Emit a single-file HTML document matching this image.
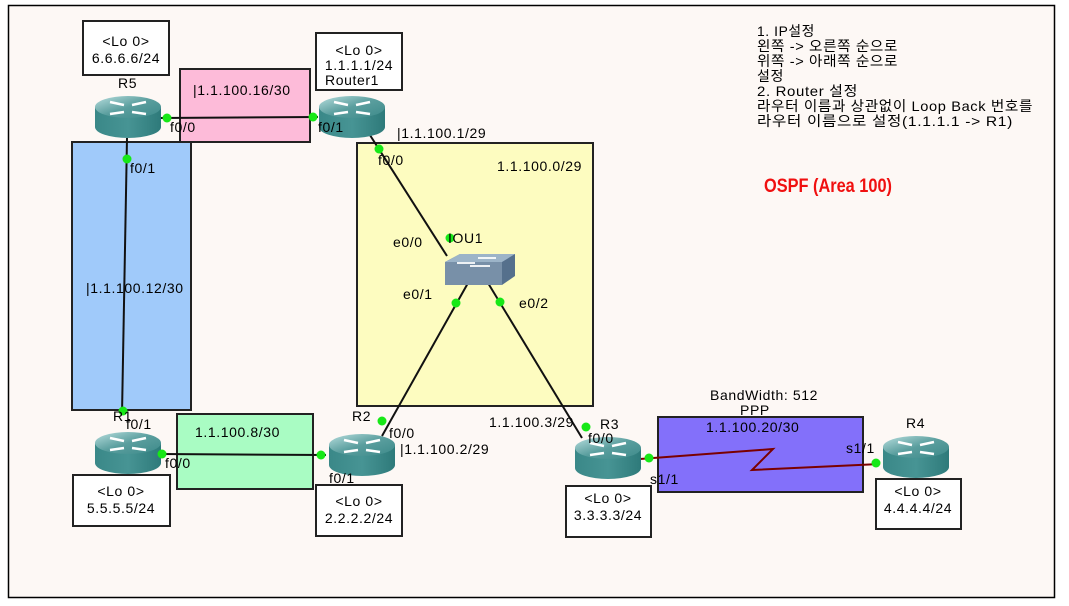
<!DOCTYPE html>
<html><head><meta charset="utf-8"><style>
html,body{margin:0;padding:0;background:#fff}
svg{display:block}
text{font-family:"Liberation Sans","Noto Sans CJK KR",sans-serif;font-size:14px;letter-spacing:0.6px;fill:#000}
</style></head><body>
<svg width="1069" height="606" viewBox="0 0 1069 606" xmlns="http://www.w3.org/2000/svg">
<defs>
<linearGradient id="tg" x1="0" y1="0" x2="1" y2="1"><stop offset="0" stop-color="#b8dede"/><stop offset="0.5" stop-color="#5a9e9e"/><stop offset="1" stop-color="#3d8a8a"/></linearGradient>
<linearGradient id="sg" x1="0" y1="0" x2="1" y2="0"><stop offset="0" stop-color="#3a8888"/><stop offset="0.5" stop-color="#479494"/><stop offset="1" stop-color="#2e7a7a"/></linearGradient>
<g id="rt">
<path d="M-33,-10 L-33,10 A33,11 0 0 0 33,10 L33,-10 Z" fill="url(#sg)"/>
<ellipse cx="0" cy="-10" rx="33" ry="11" fill="url(#tg)"/>
<g stroke="#fff" stroke-width="2.5" fill="none">
<path d="M-18,-15 L-4,-12 M-4,-5 L-18,-3 M4,-12 L18,-15 M4,-5 L18,-3"/>
</g>
</g>
</defs>
<rect x="0" y="0" width="1069" height="606" fill="#fff"/>
<rect x="8.5" y="5.5" width="1046" height="592" fill="#fdf8f5" stroke="#000" stroke-width="1.5"/>

<rect x="180" y="69" width="130" height="73" fill="#fdbbd9" stroke="#222" stroke-width="2"/>
<rect x="72" y="142" width="119" height="268" fill="#a0cafa" stroke="#222" stroke-width="2"/>
<rect x="357" y="143" width="236" height="263" fill="#fdfcc0" stroke="#222" stroke-width="2"/>
<rect x="177" y="414" width="136" height="75" fill="#a9fcc3" stroke="#222" stroke-width="2"/>
<rect x="658" y="417" width="205" height="75" fill="#8370fa" stroke="#222" stroke-width="2"/>

<g fill="#fff" stroke="#222" stroke-width="2">
<rect x="83" y="21" width="86" height="54"/>
<rect x="316" y="33" width="86" height="57"/>
<rect x="73" y="475" width="97" height="51"/>
<rect x="316" y="485" width="86" height="51"/>
<rect x="566" y="486" width="85" height="51"/>
<rect x="876" y="479" width="85" height="50"/>
</g>

<g stroke="#111" stroke-width="2" fill="none">
<line x1="160" y1="118" x2="318" y2="117"/>
<line x1="127" y1="138" x2="122" y2="414"/>
<line x1="160" y1="454" x2="326" y2="455"/>
<line x1="368" y1="132" x2="447" y2="256"/>
<line x1="468" y1="283" x2="382" y2="436"/>
<line x1="488" y1="283" x2="582" y2="438"/>
</g>
<polyline points="640,459 773,449 752,470 880,464" stroke="#7a0000" stroke-width="2" fill="none"/>

<use href="#rt" x="128" y="117"/>
<use href="#rt" x="352" y="117"/>
<use href="#rt" x="128" y="453"/>
<use href="#rt" x="362" y="455"/>
<use href="#rt" x="608" y="458"/>
<use href="#rt" x="916" y="457"/>

<path d="M445,262 L460,254 L515,254 L515,276 L502,285 L445,285 Z" fill="#55708c"/>
<path d="M445,262 L460,254 L515,254 L502,262 Z" fill="#9cb4c8"/>
<rect x="445" y="262" width="57" height="23" fill="#7890a8"/>
<g stroke="#fff" stroke-width="1.8"><line x1="457" y1="263" x2="475" y2="263"/><line x1="478" y1="258" x2="496" y2="258"/><line x1="470" y1="266" x2="490" y2="266"/></g>

<g fill="#17e817">
<circle cx="167" cy="118" r="4.5"/><circle cx="313" cy="117" r="4.5"/>
<circle cx="127" cy="159" r="4.5"/><circle cx="123" cy="411" r="4.5"/>
<circle cx="162" cy="454" r="4.5"/><circle cx="321" cy="455" r="4.5"/>
<circle cx="379" cy="149" r="4.5"/><circle cx="450" cy="238" r="4.5"/>
<circle cx="456" cy="303" r="4.5"/><circle cx="382" cy="421" r="4.5"/>
<circle cx="500" cy="302" r="4.5"/><circle cx="586" cy="427" r="4.5"/>
<circle cx="649" cy="458" r="4.5"/><circle cx="876" cy="463" r="4.5"/>
</g>

<g text-anchor="middle">
<text x="126" y="46">&lt;Lo 0&gt;</text><text x="126" y="63">6.6.6.6/24</text>
<text x="359" y="55">&lt;Lo 0&gt;</text><text x="359" y="70">1.1.1.1/24</text>
<text x="121" y="496">&lt;Lo 0&gt;</text><text x="121" y="513">5.5.5.5/24</text>
<text x="359" y="506">&lt;Lo 0&gt;</text><text x="359" y="523">2.2.2.2/24</text>
<text x="608" y="503">&lt;Lo 0&gt;</text><text x="608" y="520">3.3.3.3/24</text>
<text x="918" y="496">&lt;Lo 0&gt;</text><text x="918" y="513">4.4.4.4/24</text>
</g>
<text x="325" y="85">Router1</text>
<text x="118" y="88">R5</text>
<text x="113" y="421">R1</text>
<text x="352" y="421">R2</text>
<text x="600" y="429">R3</text>
<text x="906" y="428">R4</text>
<text x="193" y="95">|1.1.100.16/30</text>
<text x="86" y="293">|1.1.100.12/30</text>
<text x="195" y="437">1.1.100.8/30</text>
<text x="497" y="171">1.1.100.0/29</text>
<text x="397" y="138">|1.1.100.1/29</text>
<text x="400" y="454">|1.1.100.2/29</text>
<text x="489" y="427">1.1.100.3/29</text>
<text x="706" y="432">1.1.100.20/30</text>
<text x="710" y="400">BandWidth: 512</text>
<text x="740" y="415">PPP</text>
<text x="170" y="132">f0/0</text>
<text x="318" y="132">f0/1</text>
<text x="130" y="173">f0/1</text>
<text x="378" y="165">f0/0</text>
<text x="448" y="243">IOU1</text>
<text x="393" y="247">e0/0</text>
<text x="403" y="299">e0/1</text>
<text x="519" y="308">e0/2</text>
<text x="126" y="429">f0/1</text>
<text x="165" y="468">f0/0</text>
<text x="389" y="438">f0/0</text>
<text x="329" y="483">f0/1</text>
<text x="588" y="443">f0/0</text>
<text x="650" y="484">s1/1</text>
<text x="846" y="453">s1/1</text>
<g style="letter-spacing:0">
<text x="757" y="36" textLength="58" lengthAdjust="spacingAndGlyphs">1. IP설정</text>
<text x="757" y="51" textLength="141" lengthAdjust="spacingAndGlyphs">왼쪽 -&gt; 오른쪽 순으로</text>
<text x="757" y="66" textLength="141" lengthAdjust="spacingAndGlyphs">위쪽 -&gt; 아래쪽 순으로</text>
<text x="757" y="81" textLength="27" lengthAdjust="spacingAndGlyphs">설정</text>
<text x="757" y="96" textLength="101" lengthAdjust="spacingAndGlyphs">2. Router  설정</text>
<text x="757" y="111" textLength="276" lengthAdjust="spacingAndGlyphs">라우터 이름과 상관없이 Loop Back 번호를</text>
<text x="757" y="126" textLength="256" lengthAdjust="spacingAndGlyphs">라우터 이름으로 설정(1.1.1.1 -&gt; R1)</text>
</g>
<text x="764" y="192" textLength="128" lengthAdjust="spacingAndGlyphs" style="fill:#f01010;font-size:19px;font-weight:bold;letter-spacing:0">OSPF (Area 100)</text>
</svg>
</body></html>
